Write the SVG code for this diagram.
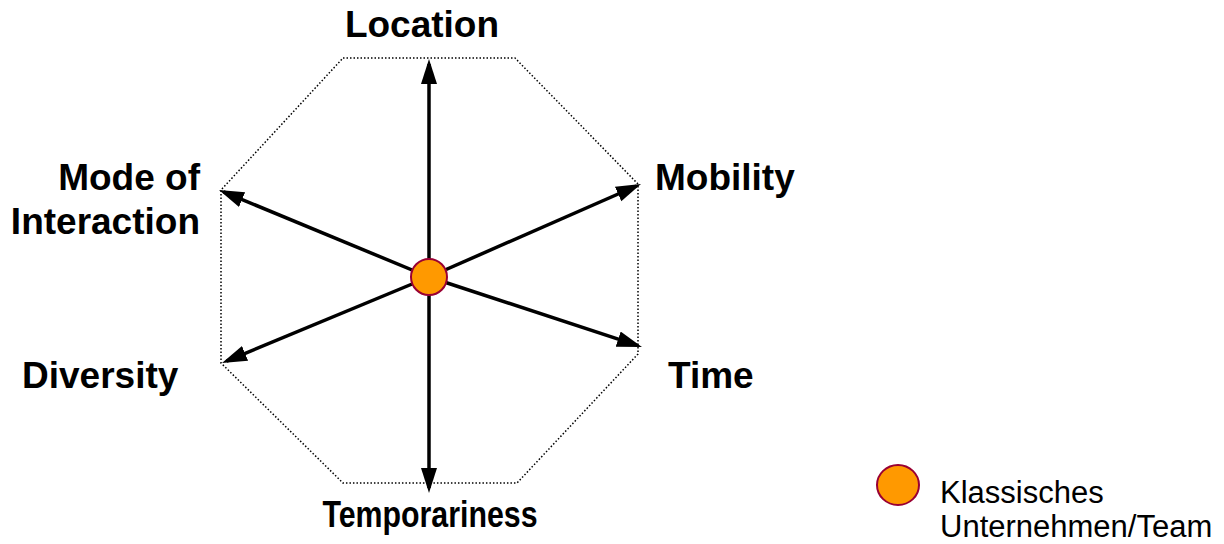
<svg xmlns="http://www.w3.org/2000/svg" width="1224" height="544" viewBox="0 0 1224 544">
<style>
.lbl{font-family:"Liberation Sans",Arial,sans-serif;font-weight:bold;font-size:37px;fill:#000}
.leg{font-family:"Liberation Sans",Arial,sans-serif;font-size:31px;fill:#000}
.ax{stroke:#000;stroke-width:3.5;fill:none;marker-end:url(#ah)}
.oct{fill:none;stroke:#000;stroke-width:1.5;stroke-dasharray:1.5 2}
.dot{fill:#FF9900;stroke:#990033;stroke-width:2}
</style>
<defs>
<marker id="ah" markerUnits="userSpaceOnUse" markerWidth="26" markerHeight="18" refX="20" refY="8" orient="auto">
<path d="M0,0 L25,8 L0,16 z" fill="#000"/>
</marker>
</defs>
<rect width="1224" height="544" fill="#fff"/>
<g id="octagon">
<polygon class="oct" points="343,58 515,58 638,184 638,354 517,483 343,483 221,363 221,190"/>
</g>
<g id="connectors">
<line class="ax" x1="429" y1="277" x2="429" y2="64"/>
<line class="ax" x1="429" y1="277" x2="429" y2="488"/>
<line class="ax" x1="429" y1="277" x2="223.6" y2="191.9"/>
<line class="ax" x1="429" y1="277" x2="636.4" y2="186"/>
<line class="ax" x1="429" y1="277" x2="226.6" y2="361.1"/>
<line class="ax" x1="429" y1="277" x2="637.2" y2="345.4"/>
</g>
<g id="center">
<circle class="dot" cx="429" cy="277" r="18"/>
</g>
<g id="location"><text class="lbl" x="422" y="37" text-anchor="middle">Location</text></g>
<g id="mode"><text class="lbl" x="200" y="190" text-anchor="end">Mode of</text><text class="lbl" x="200" y="234" text-anchor="end">Interaction</text></g>
<g id="mobility"><text class="lbl" x="655" y="190">Mobility</text></g>
<g id="diversity"><text class="lbl" x="22" y="388">Diversity</text></g>
<g id="time"><text class="lbl" x="668" y="388">Time</text></g>
<g id="temporariness"><text class="lbl" x="430" y="527" text-anchor="middle" textLength="215" lengthAdjust="spacingAndGlyphs">Temporariness</text></g>
<g id="legend">
<ellipse class="dot" cx="898" cy="485" rx="21" ry="20"/>
<text class="leg" x="940" y="503">Klassisches</text>
<text class="leg" x="940" y="537">Unternehmen/Team</text>
</g>
</svg>
